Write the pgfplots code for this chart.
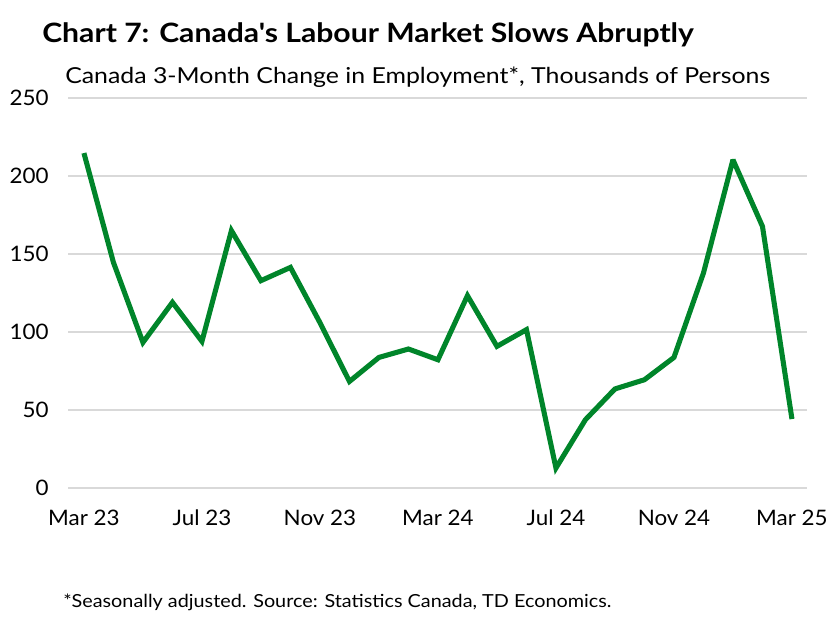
\documentclass[border=0pt]{standalone}
\usepackage{fontspec}
\setmainfont{Lato}
\newfontfamily\titlefont[FakeStretch=1.13]{Lato}
\newfontfamily\subfont[FakeStretch=1.13]{Lato}
\newfontfamily\footfont[FakeStretch=1.1]{Lato}
\newfontfamily\tickfont[FakeStretch=1.05]{Lato}
\usepackage{pgfplots}
\pgfplotsset{compat=1.18}
\definecolor{tdgreen}{HTML}{00852A}
\definecolor{gridgray}{HTML}{D9D9D9}
\begin{document}
\begin{tikzpicture}
\path[use as bounding box] (0,0) rectangle (620.25pt,462.75pt);
\begin{axis}[
  at={(51pt,96.75pt)}, anchor=south west,
  scale only axis, width=554.25pt, height=292.5pt,
  xmin=-0.54, xmax=24.51, ymin=0, ymax=250,
  ytick={0,50,...,250},
  xtick={0,4,8,12,16,20,24},
  xticklabels={Mar 23,Jul 23,Nov 23,Mar 24,Jul 24,Nov 24,Mar 25},
  axis line style={draw=none},
  major tick length=0pt,
  ymajorgrids, grid style={draw=gridgray, line width=1.1pt},
  tick label style={font=\tickfont\fontsize{16}{19}\selectfont, text=black},
  /pgf/number format/assume math mode=true,
  yticklabel style={xshift=-11pt},
  xticklabel style={yshift=-13pt},
  clip=false,
]
\addplot[tdgreen, line width=3.8pt, line join=miter, miter limit=3] coordinates {
(0,214.7) (1,144.6) (2,93.3) (3,119) (4,94) (5,165) (6,132.9) (7,141.4)
(8,106) (9,68.3) (10,83.7) (11,89.1) (12,82.2) (13,123.3) (14,90.8)
(15,101.5) (16,12.8) (17,43.8) (18,63.5) (19,69.4) (20,83.7) (21,137.8)
(22,210.4) (23,167.7) (24,44.2)
};
\end{axis}
\node[anchor=base west, inner sep=0pt, font=\titlefont\fontsize{20}{24}\selectfont\bfseries] at (31.5pt,430.5pt) {Chart 7: Canada's Labour Market Slows Abruptly};
\node[anchor=base west, inner sep=0pt, font=\subfont\fontsize{16.5}{20}\selectfont] at (48.75pt,399.75pt) {Canada 3-Month Change in Employment*, Thousands of Persons};
\node[anchor=base west, inner sep=0pt, font=\footfont\fontsize{13.5}{16}\selectfont] at (47.25pt,7.5pt) {*Seasonally adjusted. Source: Statistics Canada, TD Economics.};
\end{tikzpicture}
\end{document}
